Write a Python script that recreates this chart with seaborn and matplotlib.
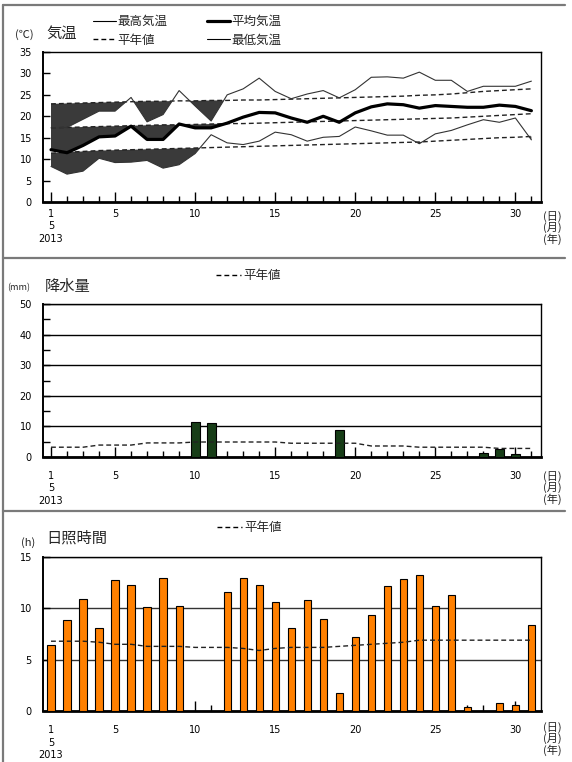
import numpy as np
import matplotlib
matplotlib.use('Agg')
import matplotlib.pyplot as plt
import seaborn as sns
from matplotlib.lines import Line2D

# 2013年5月 日別データ
days = list(range(1, 32))

tmax = [17.3, 17.4, 19.3, 21.2, 21.2, 24.4, 18.7, 20.4, 26.0, 22.4, 18.9, 25.0, 26.4, 28.9, 25.8, 24.1,
        25.2, 26.0, 24.3, 26.2, 29.1, 29.2, 28.9, 30.3, 28.4, 28.4, 25.8, 27.0, 27.0, 27.0, 28.2]
tmean = [12.2, 11.5, 13.2, 15.2, 15.4, 17.7, 14.6, 14.6, 18.2, 17.3, 17.3, 18.4, 19.8, 20.9, 20.8, 19.6,
         18.6, 20.0, 18.6, 20.8, 22.2, 22.9, 22.7, 21.9, 22.5, 22.3, 22.1, 22.1, 22.6, 22.3, 21.3]
tmin = [8.3, 6.5, 7.2, 10.2, 9.2, 9.3, 9.7, 7.9, 8.7, 11.3, 15.7, 13.8, 13.4, 14.2, 16.3, 15.7,
        14.2, 15.1, 15.3, 17.5, 16.6, 15.6, 15.6, 13.6, 15.9, 16.7, 18.0, 19.2, 18.6, 19.6, 14.5]

# 平年値
tmax_norm = [22.9, 23.0, 23.1, 23.2, 23.3, 23.4, 23.5, 23.5, 23.6, 23.6, 23.7, 23.7, 23.8, 23.8, 23.9, 24.0,
             24.1, 24.2, 24.3, 24.4, 24.5, 24.6, 24.7, 24.9, 25.0, 25.2, 25.5, 25.8, 26.0, 26.2, 26.4]
tmean_norm = [17.3, 17.4, 17.5, 17.6, 17.7, 17.8, 17.9, 18.0, 18.0, 18.1, 18.2, 18.3, 18.3, 18.4, 18.5, 18.6,
              18.7, 18.8, 18.9, 19.0, 19.1, 19.2, 19.3, 19.4, 19.5, 19.6, 19.8, 20.0, 20.2, 20.4, 20.6]
tmin_norm = [11.4, 11.6, 11.8, 12.0, 12.1, 12.2, 12.3, 12.4, 12.5, 12.6, 12.7, 12.8, 12.9, 13.0, 13.1, 13.2,
             13.3, 13.4, 13.5, 13.6, 13.7, 13.8, 13.9, 14.0, 14.2, 14.4, 14.6, 14.8, 15.0, 15.1, 15.3]

prec = [0, 0, 0, 0, 0, 0, 0, 0, 0, 11.4, 11.0, 0, 0, 0, 0, 0,
        0, 0, 8.7, 0, 0, 0, 0, 0, 0, 0, 0, 1.4, 2.5, 1.0, 0]
prec_norm = [3.2, 3.2, 3.2, 3.9, 3.9, 3.9, 4.6, 4.6, 4.6, 4.9, 4.9, 4.9, 4.9, 4.9, 4.9, 4.5,
             4.5, 4.5, 4.5, 4.5, 3.6, 3.6, 3.6, 3.2, 3.2, 3.2, 3.2, 3.2, 2.8, 2.8, 2.8]

sun = [6.4, 8.9, 10.9, 8.1, 12.7, 12.3, 10.1, 12.9, 10.2, 0, 0, 11.6, 12.9, 12.3, 10.6, 8.1,
       10.8, 9.0, 1.8, 7.2, 9.3, 12.2, 12.8, 13.2, 10.2, 11.3, 0.4, 0, 0.8, 0.6, 8.4]
sun_norm = [6.8, 6.8, 6.8, 6.7, 6.5, 6.5, 6.3, 6.3, 6.3, 6.2, 6.2, 6.2, 6.1, 5.9, 6.1, 6.2,
            6.2, 6.2, 6.3, 6.4, 6.5, 6.6, 6.7, 6.9, 6.9, 6.9, 6.9, 6.9, 6.9, 6.9, 6.9]

xtick_pos = [1, 5, 10, 15, 20, 25, 30]
xtick_lab = ['1\n5\n2013', '5', '10', '15', '20', '25', '30']

sns.set_theme(style='white')
plt.rcParams['font.family'] = ['Noto Sans CJK JP', 'DejaVu Sans']

W, H = 572, 762
fig = plt.figure(figsize=(W / 100, H / 100), dpi=100)


def box(top, bottom):
    return [43 / W, 1 - bottom / H, 498 / W, (bottom - top) / H]


ax1 = fig.add_axes(box(52, 202))
ax2 = fig.add_axes(box(304, 457))
ax3 = fig.add_axes(box(556.7, 711.3))

DASH = (0, (3.5, 2.2))


def style(ax, ylim, yticks, xpad, yminor=None):
    ax.set_xlim(0.5, 31.6)
    ax.set_ylim(*ylim)
    ax.set_xticks(xtick_pos)
    ax.set_xticklabels(xtick_lab, fontsize=7, family='DejaVu Sans', linespacing=1.3)
    ax.set_xticks(days, minor=True)
    ax.set_yticks(yticks)
    ax.set_yticklabels([str(v) for v in yticks], fontsize=7, family='DejaVu Sans')
    if yminor is not None:
        ax.set_yticks(yminor, minor=True)
    ax.tick_params(axis='x', which='major', direction='in', length=7, width=1, pad=xpad, colors='black')
    ax.tick_params(axis='x', which='minor', direction='in', length=4, width=1, colors='black')
    ax.tick_params(axis='y', which='major', direction='in', length=5, width=1, pad=8, colors='black')
    ax.tick_params(axis='y', which='minor', direction='in', length=5, width=1, colors='black')
    ax.tick_params(bottom=True, left=True, top=False, right=False)
    ax.tick_params(which='minor', bottom=True, left=True, top=False, right=False)
    ax.set_xlabel('')
    ax.set_ylabel('')
    for s in ax.spines.values():
        s.set_color('black')
        s.set_linewidth(1)
        s.set_visible(True)
    ax.spines['bottom'].set_linewidth(2)
    ax.spines['left'].set_linewidth(1.4)


def hide_empty_bars(ax):
    # 値0の棒は枠線だけが残るので消す
    for p in ax.patches:
        if p.get_height() == 0:
            p.set_visible(False)


# ---- 気温 ----
d = np.array(days)
for obs, nrm in [(tmax, tmax_norm), (tmean, tmean_norm), (tmin, tmin_norm)]:
    o, n = np.array(obs), np.array(nrm)
    ax1.fill_between(d, o, n, where=o < n, interpolate=True, color='#3a3a3a', lw=0, zorder=1)
for nrm in [tmax_norm, tmean_norm, tmin_norm]:
    sns.lineplot(x=days, y=nrm, ax=ax1, color='#222222', lw=1.0, linestyle=DASH, zorder=2)
sns.lineplot(x=days, y=tmax, ax=ax1, color='#333333', lw=0.8, zorder=3)
sns.lineplot(x=days, y=tmin, ax=ax1, color='#333333', lw=0.8, zorder=3)
sns.lineplot(x=days, y=tmean, ax=ax1, color='black', lw=2.3, zorder=4)
style(ax1, (0, 35), list(range(0, 36, 5)), xpad=5)

h_max = Line2D([], [], color='black', lw=0.8)
h_norm = Line2D([], [], color='black', lw=1.0, linestyle=DASH)
h_mean = Line2D([], [], color='black', lw=2.3)
h_min = Line2D([], [], color='black', lw=0.8)
fig.legend([h_max, h_norm, h_mean, h_min], ['最高気温', '平年値', '平均気温', '最低気温'],
           ncol=2, loc='upper left', bbox_to_anchor=(93 / W, 1 - 15 / H), frameon=False,
           fontsize=9, handlelength=1.8, handletextpad=0.15, columnspacing=3.2,
           labelspacing=0.45, borderpad=0, borderaxespad=0)
fig.text(15 / W, 1 - 35 / H, '(℃)', fontsize=8, va='center', ha='left')
fig.text(46 / W, 1 - 33 / H, '気温', fontsize=11, va='center', ha='left')

# ---- 降水量 ----
sns.barplot(x=days, y=prec, ax=ax2, native_scale=True, width=0.55, color='#173d17',
            edgecolor='black', linewidth=0.8, saturation=1, errorbar=None, zorder=3)
hide_empty_bars(ax2)
sns.lineplot(x=days, y=prec_norm, ax=ax2, color='#222222', lw=1.0, linestyle=DASH, zorder=4)
style(ax2, (0, 50), list(range(0, 51, 10)), xpad=10, yminor=list(range(5, 50, 10)))
ax2.set_axisbelow(True)
ax2.grid(axis='y', which='major', color='black', lw=1)
ax2.legend([Line2D([], [], color='black', lw=1.0, linestyle=DASH)], ['平年値'],
           loc='upper left', bbox_to_anchor=(216 / W, 1 - 269 / H), bbox_transform=fig.transFigure,
           frameon=False, fontsize=9, handlelength=2.0, handletextpad=0.15, borderpad=0, borderaxespad=0)
fig.text(7 / W, 1 - 288 / H, '(mm)', fontsize=6.5, va='center', ha='left')
fig.text(45 / W, 1 - 286 / H, '降水量', fontsize=11, va='center', ha='left')

# ---- 日照時間 ----
sns.barplot(x=days, y=sun, ax=ax3, native_scale=True, width=0.45, color='#ff8000',
            edgecolor='black', linewidth=0.8, saturation=1, errorbar=None, zorder=3)
hide_empty_bars(ax3)
sns.lineplot(x=days, y=sun_norm, ax=ax3, color='#222222', lw=1.0, linestyle=DASH, zorder=4)
style(ax3, (0, 15), [0, 5, 10, 15], xpad=10)
ax3.set_axisbelow(True)
ax3.grid(axis='y', which='major', color='#333333', lw=1)
ax3.legend([Line2D([], [], color='black', lw=1.0, linestyle=DASH)], ['平年値'],
           loc='upper left', bbox_to_anchor=(217 / W, 1 - 521 / H), bbox_transform=fig.transFigure,
           frameon=False, fontsize=9, handlelength=2.0, handletextpad=0.15, borderpad=0, borderaxespad=0)
fig.text(21 / W, 1 - 543 / H, '(h)', fontsize=8, va='center', ha='left')
fig.text(46 / W, 1 - 538 / H, '日照時間', fontsize=11, va='center', ha='left')

# 単位 (日)(月)(年)
for ytop in [211, 471, 722]:
    fig.text(552 / W, 1 - ytop / H, '(日)\n(月)\n(年)', fontsize=8, va='top', ha='center', linespacing=1.0)

# パネル枠
frame_kw = dict(transform=fig.transFigure, color='#7a7a7a', lw=1.6)
for y in [5, 258, 511]:
    fig.add_artist(Line2D([3 / W, 565 / W], [1 - y / H, 1 - y / H], **frame_kw))
fig.add_artist(Line2D([3 / W, 3 / W], [1 - 5 / H, 0], **frame_kw))

fig.savefig('out.png', dpi=100)
